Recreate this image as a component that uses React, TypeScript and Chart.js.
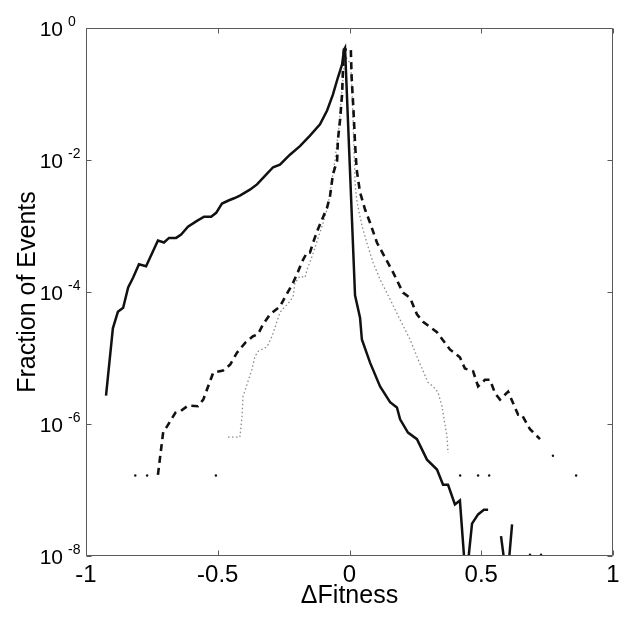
import React, { useEffect, useRef } from 'react';
import { Chart, registerables } from 'chart.js';

Chart.register(...registerables);

// ---- Data (x = ΔFitness, exponents = log10 of Fraction of Events) ----
const solidX = [-0.924, -0.898, -0.879, -0.859, -0.84, -0.821, -0.799, -0.772, -0.727, -0.704, -0.685, -0.658, -0.639, -0.613, -0.582, -0.552, -0.525, -0.506, -0.484, -0.457, -0.438, -0.416, -0.378, -0.351, -0.328, -0.29, -0.264, -0.226, -0.188, -0.15, -0.112, -0.085, -0.063, -0.044, -0.028, -0.021, -0.017, 0.021, 0.04, 0.047, 0.078, 0.116, 0.154, 0.18, 0.192, 0.222, 0.256, 0.294, 0.332, 0.355, 0.374, 0.4, 0.419, 0.442, 0.465, 0.488, 0.51, 0.526, 0.55, 0.575, 0.598, 0.617];
const solidExp: (number | null)[] = [-5.57, -4.55, -4.3, -4.24, -3.93, -3.78, -3.58, -3.61, -3.22, -3.25, -3.18, -3.18, -3.13, -3.01, -2.93, -2.86, -2.86, -2.8, -2.66, -2.61, -2.58, -2.54, -2.45, -2.37, -2.27, -2.11, -2.07, -1.92, -1.79, -1.63, -1.46, -1.25, -1.01, -0.75, -0.55, -0.33, -0.3, -4.05, -4.39, -4.72, -5.07, -5.43, -5.67, -5.75, -5.93, -6.13, -6.23, -6.54, -6.69, -6.92, -6.92, -7.22, -7.16, -8.4, -7.51, -7.37, -7.3, -7.3, null, -7.7, -8.4, -7.52];

const dashedX = [-0.727, -0.707, -0.693, -0.661, -0.643, -0.612, -0.575, -0.555, -0.517, -0.48, -0.453, -0.427, -0.396, -0.366, -0.347, -0.328, -0.302, -0.264, -0.245, -0.214, -0.195, -0.18, -0.161, -0.15, -0.138, -0.123, -0.104, -0.085, -0.074, -0.063, -0.047, -0.044, -0.036, -0.028, -0.025, -0.021, 0.005, 0.008, 0.015, 0.021, 0.027, 0.04, 0.059, 0.078, 0.104, 0.142, 0.165, 0.203, 0.23, 0.256, 0.279, 0.332, 0.381, 0.419, 0.438, 0.469, 0.488, 0.514, 0.533, 0.552, 0.571, 0.602, 0.64, 0.654, 0.685, 0.696, 0.723];
const dashedExp = [-6.77, -6.12, -6.04, -5.83, -5.81, -5.72, -5.73, -5.63, -5.22, -5.19, -5.1, -4.92, -4.77, -4.67, -4.64, -4.49, -4.34, -4.22, -4.08, -3.86, -3.69, -3.54, -3.4, -3.4, -3.25, -3.08, -2.9, -2.72, -2.55, -2.22, -2.01, -1.7, -1.4, -1.0, -0.64, -0.33, -0.32, -0.74, -1.24, -1.74, -2.14, -2.49, -2.75, -2.95, -3.25, -3.53, -3.7, -4.01, -4.09, -4.34, -4.45, -4.61, -4.87, -4.99, -5.16, -5.2, -5.43, -5.33, -5.33, -5.53, -5.63, -5.51, -5.86, -5.86, -6.08, -6.12, -6.23];

const dottedX = [-0.461, -0.416, -0.408, -0.404, -0.389, -0.37, -0.359, -0.347, -0.313, -0.294, -0.283, -0.264, -0.226, -0.214, -0.207, -0.188, -0.169, -0.161, -0.142, -0.123, -0.1, -0.082, -0.07, -0.055, -0.04, -0.03, -0.02, -0.012, 0.005, 0.012, 0.017, 0.021, 0.027, 0.04, 0.051, 0.07, 0.089, 0.116, 0.154, 0.192, 0.23, 0.26, 0.298, 0.317, 0.336, 0.351, 0.359, 0.37, 0.374];
const dottedExp = [-6.2, -6.2, -5.89, -5.58, -5.4, -5.17, -4.98, -4.9, -4.83, -4.67, -4.54, -4.31, -4.14, -4.07, -3.86, -3.76, -3.78, -3.66, -3.46, -3.23, -2.95, -2.7, -2.4, -2.0, -1.5, -1.0, -0.55, -0.45, -0.55, -1.2, -1.84, -2.34, -2.6, -2.86, -3.05, -3.31, -3.55, -3.81, -4.11, -4.42, -4.72, -5.02, -5.37, -5.43, -5.52, -5.73, -5.93, -6.19, -6.44];

const singleX = [-0.813, -0.768, -0.507, 0.42, 0.488, 0.53, 0.772, 0.86, 0.685, 0.727];
const singleExp = [-6.78, -6.78, -6.78, -6.78, -6.78, -6.78, -6.48, -6.78, -7.98, -7.98];

const xTicks = [-1, -0.5, 0, 0.5, 1];
const yTickExps = [0, -2, -4, -6, -8];

const FONT = '"Liberation Sans", Arial, Helvetica, sans-serif';

function toPoints(xs: number[], es: (number | null)[]) {
  return xs.map((x, i) => ({ x, y: es[i] === null ? null : Math.pow(10, es[i] as number) }));
}

const framePlugin = {
  id: 'matlabFrame',
  afterDatasetsDraw(chart: any) {
    const { ctx, chartArea: a, scales } = chart;
    const xs = scales.x;
    const ys = scales.y;
    const L = Math.round(a.left) + 0.5;
    const R = Math.round(a.right) - 0.5;
    const T = Math.round(a.top) + 0.5;
    const B = Math.round(a.bottom) - 0.5;
    ctx.save();
    ctx.strokeStyle = '#5a5a5a';
    ctx.lineWidth = 1;
    ctx.beginPath();
    ctx.rect(L, T, R - L, B - T);
    const tl = 5;
    xTicks.forEach((v) => {
      const px = Math.round(xs.getPixelForValue(v)) + 0.5;
      ctx.moveTo(px, B);
      ctx.lineTo(px, B - tl);
      ctx.moveTo(px, T);
      ctx.lineTo(px, T + tl);
    });
    yTickExps.forEach((e) => {
      const py = Math.round(ys.getPixelForValue(Math.pow(10, e))) + 0.5;
      ctx.moveTo(L, py);
      ctx.lineTo(L + tl, py);
      ctx.moveTo(R, py);
      ctx.lineTo(R - tl, py);
    });
    ctx.stroke();

    ctx.fillStyle = '#000';
    yTickExps.forEach((e) => {
      const py = ys.getPixelForValue(Math.pow(10, e));
      ctx.font = `21px ${FONT}`;
      ctx.textAlign = 'right';
      ctx.textBaseline = 'alphabetic';
      ctx.fillText('10', 63, py + 8);
      ctx.font = `14px ${FONT}`;
      ctx.textAlign = 'left';
      ctx.fillText(String(e), 68, py - 2);
    });
    ctx.restore();
  },
};

export default function App() {
  const canvasRef = useRef<HTMLCanvasElement | null>(null);

  useEffect(() => {
    const canvas = canvasRef.current;
    if (!canvas) return;
    const chart = new Chart(canvas, {
      type: 'scatter',
      data: {
        datasets: [
          {
            label: 'solid',
            data: toPoints(solidX, solidExp),
            showLine: true,
            borderColor: '#111',
            borderWidth: 2.5,
            pointRadius: 0,
            spanGaps: false,
          },
          {
            label: 'dashed',
            data: toPoints(dashedX, dashedExp),
            showLine: true,
            borderColor: '#111',
            borderWidth: 2.6,
            borderDash: [7, 5],
            pointRadius: 0,
          },
          {
            label: 'dotted',
            data: toPoints(dottedX, dottedExp),
            showLine: true,
            borderColor: '#8a8a8a',
            borderWidth: 1.3,
            borderDash: [1.5, 2.5],
            pointRadius: 0,
          },
          {
            label: 'single',
            data: toPoints(singleX, singleExp),
            showLine: false,
            pointRadius: 1.2,
            pointBorderWidth: 0,
            pointBackgroundColor: '#111',
          },
        ],
      } as any,
      options: {
        animation: false,
        responsive: true,
        maintainAspectRatio: false,
        events: [],
        layout: { padding: { top: 28, right: 13, left: 0, bottom: 0 } },
        plugins: {
          legend: { display: false },
          tooltip: { enabled: false },
        },
        scales: {
          x: {
            type: 'linear',
            min: -1,
            max: 1,
            grid: { display: false, drawTicks: false },
            border: { display: false },
            afterBuildTicks: (scale: any) => {
              scale.ticks = xTicks.map((v) => ({ value: v }));
            },
            ticks: {
              color: '#000',
              font: { family: FONT, size: 24 },
              padding: 5,
              maxRotation: 0,
              autoSkip: false,
              callback: (v: any) => String(v),
            },
            title: {
              display: true,
              text: 'ΔFitness',
              color: '#000',
              font: { family: FONT, size: 25 },
              padding: { top: 0, bottom: 6 },
            },
            afterFit: (scale: any) => {
              scale.height = 61;
            },
          },
          y: {
            type: 'logarithmic',
            min: 1e-8,
            max: 1,
            grid: { display: false, drawTicks: false },
            border: { display: false },
            ticks: { display: false },
            title: {
              display: true,
              text: 'Fraction of Events',
              color: '#000',
              font: { family: FONT, size: 25 },
              padding: { top: 13, bottom: 0 },
            },
            afterFit: (scale: any) => {
              scale.width = 86;
            },
          },
        },
      } as any,
      plugins: [framePlugin],
    });
    return () => chart.destroy();
  }, []);

  return (
    <div style={{ position: 'absolute', left: 0, top: 0, width: 626, height: 617, background: '#fff' }}>
      <canvas ref={canvasRef} />
    </div>
  );
}
